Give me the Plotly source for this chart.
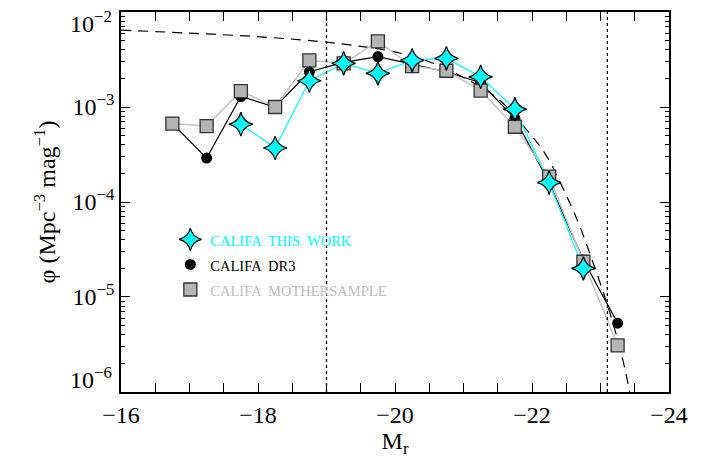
import math
import plotly.graph_objects as go

# ---- data ----
M_this = [-17.75, -18.25, -18.75, -19.25, -19.75, -20.25, -20.75, -21.25, -21.75, -22.25, -22.75]
phi_this = [6.6e-4, 3.7e-4, 1.89e-3, 2.88e-3, 2.26e-3, 3.1e-3, 3.25e-3, 2.08e-3, 9.5e-4, 1.6e-4, 2.0e-5]

M_dr3 = [-16.75, -17.25, -17.75, -18.25, -18.75, -19.25, -19.75, -20.25, -20.75, -21.25, -21.75, -22.25, -22.75, -23.25]
phi_dr3 = [6.7e-4, 2.9e-4, 1.29e-3, 1.0e-3, 2.35e-3, 2.95e-3, 3.4e-3, 2.8e-3, 2.35e-3, 1.8e-3, 7.6e-4, 1.6e-4, 2.45e-5, 5.3e-6]

M_mother = [-16.75, -17.25, -17.75, -18.25, -18.75, -19.25, -19.75, -20.25, -20.75, -21.25, -21.75, -22.25, -22.75, -23.25]
phi_mother = [6.7e-4, 6.3e-4, 1.47e-3, 1.0e-3, 3.1e-3, 2.88e-3, 4.9e-3, 2.7e-3, 2.41e-3, 1.49e-3, 6.2e-4, 1.85e-4, 2.35e-5, 3.1e-6]

# dashed model curve
M_fit = [-16.0, -17.0, -18.0, -18.9, -19.5, -20.0, -20.5, -21.0, -21.5, -21.9, -22.2, -22.5, -22.7, -22.9, -23.1, -23.3, -23.42, -23.5]
phi_fit = [6.45e-3, 6.0e-3, 5.5e-3, 4.9e-3, 4.35e-3, 3.8e-3, 3.0e-3, 2.05e-3, 1.23e-3, 6.0e-4, 3.15e-4, 1.18e-4, 5.5e-5, 2.2e-5, 8.3e-6, 2.6e-6, 1.05e-6, 5.0e-7]

limits = [-19.0, -23.1]

x_ticks = [-16, -18, -20, -22, -24]
x_ticktext = ["\u221216", "\u221218", "\u221220", "\u221222", "\u221224"]
y_ticks = [1e-6, 1e-5, 1e-4, 1e-3, 1e-2]
y_ticktext = ["10<sup>\u22126</sup>", "10<sup>\u22125</sup>", "10<sup>\u22124</sup>",
              "10<sup>\u22123</sup>", "10<sup>\u22122</sup>"]

FONT = "Liberation Serif"
CYAN = "#00ffff"
GRAY = "#b4b4b4"
LGRAY = "#c4c4c4"

fig = go.Figure()

fig.add_trace(go.Scatter(
    x=M_fit, y=phi_fit, mode="lines",
    line=dict(color="black", width=1.2, dash="10px,7px", shape="spline"),
    showlegend=False, hoverinfo="skip"))

# connecting lines (not in legend)
fig.add_trace(go.Scatter(x=M_dr3, y=phi_dr3, mode="lines",
                         line=dict(color="black", width=1.2), showlegend=False))
fig.add_trace(go.Scatter(x=M_mother, y=phi_mother, mode="lines",
                         line=dict(color=LGRAY, width=1.5), showlegend=False))
fig.add_trace(go.Scatter(x=M_this, y=phi_this, mode="lines",
                         line=dict(color=CYAN, width=1.2), showlegend=False))

# markers (legend entries)
fig.add_trace(go.Scatter(
    x=M_dr3, y=phi_dr3, mode="markers",
    marker=dict(symbol="circle", size=11, color="black"),
    name='<span style="color:black;font-size:14.5px">CALIFA  DR3</span>', legendrank=2))

fig.add_trace(go.Scatter(
    x=M_mother, y=phi_mother, mode="markers",
    marker=dict(symbol="square", size=13, color=GRAY, line=dict(color="#333333", width=1.3)),
    name='<span style="color:#bdbdbd;font-size:14.5px">CALIFA  MOTHERSAMPLE</span>', legendrank=3))

fig.add_trace(go.Scatter(
    x=M_this, y=phi_this, mode="markers",
    marker=dict(symbol="star-diamond", size=17, color=CYAN, line=dict(color="black", width=1.2)),
    name='<span style="color:#00ffff;font-size:14.5px">CALIFA  THIS  WORK</span>', legendrank=1))

for xv in limits:
    fig.add_shape(type="line", x0=xv, x1=xv, y0=0, y1=1, xref="x", yref="paper",
                  line=dict(color="black", width=1.3, dash="dot"))

minor_y = []
for e in range(-6, -2):
    for k in range(2, 10):
        minor_y.append(k * 10 ** e)

YR = [-6.0005, -1.9995]

# the end labels are nudged inside the frame, as in the reference
axis_text = [y_ticktext[i] if 0 < i < len(y_ticks) - 1 else "" for i in range(len(y_ticks))]

fig.update_xaxes(
    range=[-16, -24], tickvals=x_ticks, ticktext=x_ticktext,
    ticks="inside", ticklen=9, tickwidth=1.2, tickcolor="black",
    showline=True, linecolor="black", linewidth=1.5, mirror="allticks",
    showgrid=False, zeroline=False, automargin=False,
    minor=dict(dtick=0.5, ticks="inside", ticklen=4, tickwidth=1, tickcolor="black", showgrid=False),
    tickfont=dict(family=FONT, size=24, color="black"),
    title=dict(text="M<sub>r</sub>", font=dict(family=FONT, size=24, color="black"), standoff=4),
)
fig.update_layout(
    yaxis=dict(
        type="log", range=YR, tickvals=y_ticks, ticktext=axis_text,
        ticks="inside", ticklen=9, tickwidth=1.2, tickcolor="black",
        showline=True, linecolor="black", linewidth=1.5, mirror="allticks",
        showgrid=False, zeroline=False, automargin=False,
        tickfont=dict(family=FONT, size=24, color="black"),
        title=dict(text="\u03c6 (Mpc<sup>\u22123</sup> mag<sup>\u22121</sup>)",
                   font=dict(family=FONT, size=24, color="black"), standoff=10),
    ),
    yaxis2=dict(
        type="log", range=YR, overlaying="y", side="left", tickvals=minor_y,
        ticks="inside", ticklen=4, tickwidth=1, tickcolor="black",
        showticklabels=False, showline=False, mirror="allticks",
        showgrid=False, zeroline=False, automargin=False,
    ),
)
# dummy invisible trace to anchor yaxis2
fig.add_trace(go.Scatter(x=[-16], y=[1e-3], yaxis="y2", mode="markers",
                         marker=dict(opacity=0), showlegend=False, hoverinfo="skip"))

for i, shift in ((0, 14), (len(y_ticks) - 1, -10)):
    fig.add_annotation(x=0, xref="paper", xanchor="right", xshift=-7,
                       y=math.log10(y_ticks[i]), yref="y", yanchor="middle", yshift=shift,
                       text=y_ticktext[i], showarrow=False,
                       font=dict(family=FONT, size=24, color="black"))

fig.update_layout(
    width=708, height=458,
    margin=dict(l=113, r=47, t=4, b=74),
    paper_bgcolor="white", plot_bgcolor="white",
    legend=dict(x=0.09, y=0.448, xanchor="left", yanchor="top",
                bgcolor="rgba(0,0,0,0)", font=dict(family=FONT, size=17, color="black"),
                tracegroupgap=0),
)

fig.write_html("out.html")
